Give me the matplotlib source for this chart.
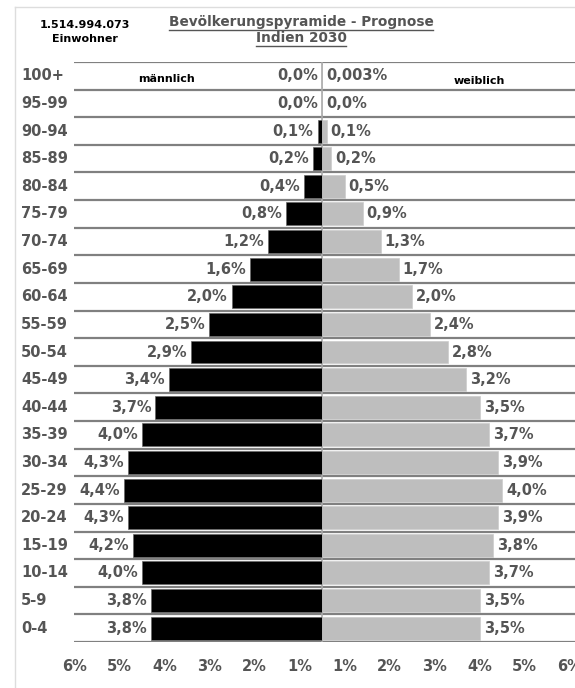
import numpy as np
import matplotlib.pyplot as plt
from matplotlib.lines import Line2D

ages = ['0-4', '5-9', '10-14', '15-19', '20-24', '25-29', '30-34', '35-39',
        '40-44', '45-49', '50-54', '55-59', '60-64', '65-69', '70-74',
        '75-79', '80-84', '85-89', '90-94', '95-99', '100+']
male = [3.8, 3.8, 4.0, 4.2, 4.3, 4.4, 4.3, 4.0, 3.7, 3.4, 2.9, 2.5, 2.0,
        1.6, 1.2, 0.8, 0.4, 0.2, 0.1, 0.0, 0.0]
female = [3.5, 3.5, 3.7, 3.8, 3.9, 4.0, 3.9, 3.7, 3.5, 3.2, 2.8, 2.4, 2.0,
          1.7, 1.3, 0.9, 0.5, 0.2, 0.1, 0.0, 0.003]
male_lbl = ['3,8%', '3,8%', '4,0%', '4,2%', '4,3%', '4,4%', '4,3%', '4,0%',
            '3,7%', '3,4%', '2,9%', '2,5%', '2,0%', '1,6%', '1,2%', '0,8%',
            '0,4%', '0,2%', '0,1%', '0,0%', '0,0%']
female_lbl = ['3,5%', '3,5%', '3,7%', '3,8%', '3,9%', '4,0%', '3,9%', '3,7%',
              '3,5%', '3,2%', '2,8%', '2,4%', '2,0%', '1,7%', '1,3%', '0,9%',
              '0,5%', '0,2%', '0,1%', '0,0%', '0,003%']
tick_vals = [1, 2, 3, 4, 5, 6]

grey = '#555555'
fig = plt.figure(figsize=(5.75, 6.88), dpi=100)
ax = fig.add_axes([74/575, 1 - 642/688, 501/575, 580/688])

y = np.arange(len(ages))
ax.barh(y, -np.array(male), height=0.83, color='black', edgecolor='#666666', lw=0.5, zorder=3)
ax.barh(y, female, height=0.83, color='#bebebe', edgecolor='#cccccc', lw=0.5, zorder=3)
ax.axvline(0, color='#aaaaaa', lw=1.2, zorder=2)

for yy in np.arange(-0.5, len(ages), 1):
    ax.axhline(yy, color='#808080', lw=1.6, zorder=1)

for i in range(len(ages)):
    ax.text(-male[i] - 0.09, i, male_lbl[i], ha='right', va='center',
            fontsize=10.5, fontweight='bold', color=grey)
    ax.text(female[i] + 0.09, i, female_lbl[i], ha='left', va='center',
            fontsize=10.5, fontweight='bold', color=grey)
    ax.text(-53/501, i, ages[i], ha='left', va='center', fontsize=10.5,
            fontweight='bold', color=grey, transform=ax.get_yaxis_transform())

ax.set_xlim(-5.51, 5.62)
ax.set_ylim(-0.5, len(ages) - 0.5)
pos = [-(k - 0.5) for k in tick_vals] + [k - 0.5 for k in tick_vals]
lbl = [f'{k}%' for k in tick_vals] * 2
ax.set_xticks(pos)
ax.set_xticklabels(lbl, fontsize=10.5, fontweight='bold', color=grey)
ax.tick_params(axis='x', length=0, pad=12)
ax.set_yticks([])
for s in ax.spines.values():
    s.set_visible(False)

ax.text(-3.45, 19.87, 'männlich', ha='center', va='center', fontsize=8, fontweight='bold')
ax.text(3.5, 19.8, 'weiblich', ha='center', va='center', fontsize=8, fontweight='bold')

fig.text(85/575, 1 - 25/688, '1.514.994.073', ha='center', va='center', fontsize=8, fontweight='bold')
fig.text(85/575, 1 - 39/688, 'Einwohner', ha='center', va='center', fontsize=8, fontweight='bold')
t1 = fig.text(301/575, 1 - 22/688, 'Bevölkerungspyramide - Prognose', ha='center', va='center',
              fontsize=9.8, fontweight='bold', color=grey)
t2 = fig.text(301/575, 1 - 38/688, 'Indien 2030', ha='center', va='center',
              fontsize=9.8, fontweight='bold', color=grey)

# underline the title lines
r = fig.canvas.get_renderer()
for t in (t1, t2):
    bb = t.get_window_extent(r)
    yl = (bb.y0 - 1) / fig.bbox.height
    fig.add_artist(Line2D([bb.x0 / fig.bbox.width, bb.x1 / fig.bbox.width], [yl, yl],
                          color=grey, lw=1))

# frame lines
fig.add_artist(Line2D([15/575, 15/575], [0, 1 - 7/688], color='#dddddd', lw=1))
fig.add_artist(Line2D([15/575, 1], [1 - 7/688, 1 - 7/688], color='#dddddd', lw=1))

fig.savefig('out.png', dpi=100)
